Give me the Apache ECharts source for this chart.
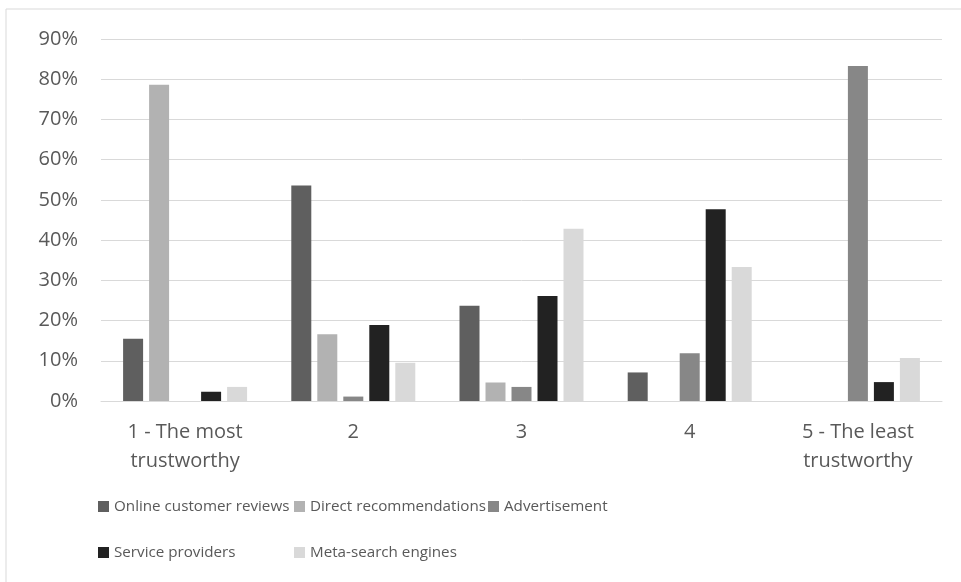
<!DOCTYPE html>
<html>
<head>
<meta charset="utf-8">
<script src="https://cdn.jsdelivr.net/npm/echarts@6/dist/echarts.min.js"></script>
<style>html,body{margin:0;padding:0;background:#fff;}#c{width:961px;height:582px;}</style>
</head>
<body>
<div id="c"></div>
<script>
var categories = ['1 - The most\ntrustworthy', '2', '3', '4', '5 - The least\ntrustworthy'];
var seriesNames = ['Online customer reviews', 'Direct recommendations', 'Advertisement', 'Service providers', 'Meta-search engines'];
var onlineReviews = [15.5, 53.6, 23.7, 7.1, 0];
var directRecs = [78.6, 16.6, 4.6, 0, 0];
var advertisement = [0, 1.1, 3.5, 11.9, 83.3];
var serviceProviders = [2.3, 18.9, 26.1, 47.7, 4.7];
var metaSearch = [3.5, 9.5, 42.8, 33.3, 10.7];
var yTicks = [0, 10, 20, 30, 40, 50, 60, 70, 80, 90];

var colors = ['#5f5f5f', '#b2b2b2', '#878787', '#222222', '#d9d9d9'];
var values = [onlineReviews, directRecs, advertisement, serviceProviders, metaSearch];
var FONT = '"Open Sans", sans-serif';
var TXT = '#595959';
var FS = 20;
var LFS = 15.2;

var chart = echarts.init(document.getElementById('c'), null, {renderer: 'canvas'});
var legendPos = [[93, 494], [289, 494], [483, 494], [93, 540], [289, 540]];
var option = {
  animation: false,
  backgroundColor: '#fff',
  textStyle: {fontFamily: FONT},
  graphic: [{type: 'rect', shape: {x: 6, y: 9, width: 1000, height: 1000}, style: {fill: 'none', stroke: '#d9d9d9', lineWidth: 1}}],
  grid: {left: 101, right: 19, top: 39, bottom: 181, containLabel: false},
  legend: seriesNames.map(function (n, i) {
    return {
      data: [n], left: legendPos[i][0], top: legendPos[i][1],
      itemWidth: 11, itemHeight: 11, icon: 'rect',
      textStyle: {color: TXT, fontSize: LFS, fontFamily: FONT}
    };
  }),
  xAxis: {
    type: 'category', data: categories,
    axisLine: {lineStyle: {color: '#d9d9d9', width: 1}},
    axisTick: {show: false},
    axisLabel: {color: TXT, fontSize: FS, fontFamily: FONT, lineHeight: 29, margin: 17, interval: 0}
  },
  yAxis: {
    type: 'value', min: yTicks[0], max: yTicks[yTicks.length - 1], interval: 10,
    axisLine: {show: false}, axisTick: {show: false},
    splitLine: {lineStyle: {color: '#d9d9d9', width: 1}},
    axisLabel: {color: TXT, fontSize: FS, fontFamily: FONT, formatter: '{value}%', margin: 23}
  },
  series: seriesNames.map(function (n, i) {
    return {
      name: n, type: 'bar', data: values[i], barWidth: 20, barGap: '30%',
      itemStyle: {color: colors[i]}
    };
  })
};
chart.setOption(option);
</script>
</body>
</html>
